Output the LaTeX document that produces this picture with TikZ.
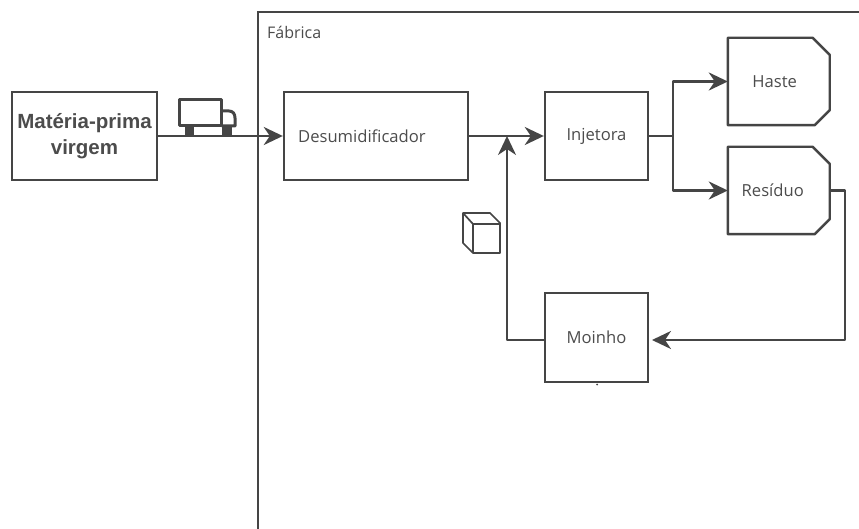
\documentclass[tikz,border=0pt]{standalone}
\usepackage{fontspec}
\setmainfont{Open Sans}
\newfontfamily\boldlabel{Liberation Sans}[BoldFont={Liberation Sans Bold}]
\usetikzlibrary{arrows.meta,calc}
\definecolor{ink}{gray}{0.27}
\definecolor{txt}{gray}{0.3}
\tikzset{
  x=1pt,y=-1pt,
  edge/.style={draw=ink,line width=2.4pt,line join=round},
  flow/.style={edge,-{Stealth[length=19pt,width=18pt,inset=6pt]}},
  boxnode/.style={draw=ink,line width=2.4pt,inner sep=0pt,align=center,text=txt,font=\fontsize{16.6}{20}\selectfont},
  tagnode/.style={inner sep=0pt,minimum width=101.5pt,minimum height=87pt,text=txt,font=\fontsize{16.6}{20}\selectfont},
  tagline/.style={draw=ink,line width=2.4pt,line join=round},
  icon/.style={draw=ink,line width=1.7pt,line join=round},
}
\newcommand{\tagoutline}[1]{%
  \draw[tagline] (#1.north west) -- ($(#1.north east)+(-17,0)$) -- ($(#1.north east)+(0,17)$)
    -- ($(#1.south east)+(0,-15)$) -- ($(#1.south east)+(-15,0)$) -- (#1.south west) -- cycle;}
\begin{document}
\begin{tikzpicture}
\useasboundingbox (0,0) rectangle (859,529);
\fill[white] (0,0) rectangle (859,529);
% factory frame
\coordinate (fsw) at (258,529);
\coordinate (fnw) at (258,12);
\coordinate (fne) at (859,12);
\draw[draw=ink,line width=2.4pt] (fsw) -- (fnw) -- (fne);
\node[anchor=west,inner sep=0pt,text=txt,font=\fontsize{16}{18}\selectfont] (fab) at (267,32) {Fábrica};
% nodes
\node[boxnode,minimum width=145pt,minimum height=88pt,font=\boldlabel\bfseries\fontsize{20.5}{26}\selectfont] (mat) at (84.5,136) {\rule{0pt}{12pt}Matéria-prima\\virgem};
\node[boxnode,minimum width=184pt,minimum height=88pt] (des) at (376,136) {};
\node[anchor=west,inner sep=0pt,text=txt,font=\fontsize{16.6}{20}\selectfont] (deslabel) at (298,136) {Desumidificador};
\node[boxnode,minimum width=103pt,minimum height=88pt] (inj) at (596.5,136) {Injetora};
\node[boxnode,minimum width=103pt,minimum height=89pt] (moi) at (596.5,337.5) {Moinho};
\node[tagnode] (has) at (778.75,81.5) {\hspace*{-8pt}Haste};
\node[tagnode] (res) at (778.75,190.5) {\hspace*{-12pt}Resíduo};
\tagoutline{has}
\tagoutline{res}
% connectors
\coordinate (junc) at (673,136);
\coordinate (merge) at (507,136);
\coordinate (moiin) at (652,340);
\draw[flow] (mat.east) -- (des.west);
\draw[flow] (des.east) -- (inj.west);
\draw[edge] (inj.east) -- (junc);
\draw[flow] (junc) |- (has.west);
\draw[flow] (junc) |- (res.west);
\draw[flow] (res.east) -| ++(15,0) |- (moiin);
\draw[flow] ($(moi.west)+(0,2.5)$) -| (merge);
% truck icon
\draw[icon,line width=3pt] (179,100) rectangle (221.5,126);
\draw[icon,line width=3pt] (221.5,111) -- (229,111) .. controls (233,111) and (235,114) .. (235,118) -- (235,126) -- (221.5,126);
\fill[ink] (185,127) rectangle (194,135);
\fill[ink] (222,127) rectangle (232,135);
% cube icon
\draw[icon] (463,213) -- (490,213) -- (500,223) -- (500,253) -- (473,253) -- (463,243) -- cycle;
\draw[icon] (463,213) -- (473,224) -- (473,253);
\draw[icon] (473,224) -- (500,224);
% speck under the mill
\fill[ink] (597,384.5) circle (1pt);
\end{tikzpicture}
\end{document}
